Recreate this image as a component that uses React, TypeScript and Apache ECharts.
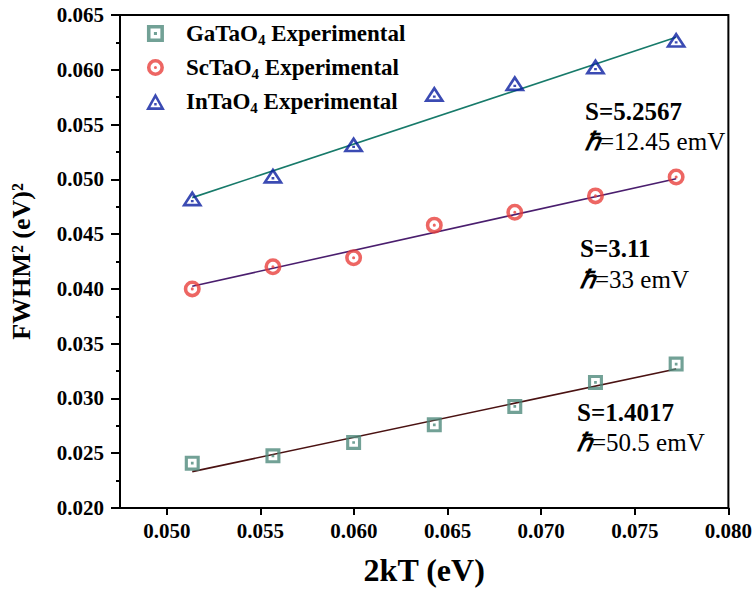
import React, { useEffect, useRef } from "react";
import * as echarts from "echarts";

const xValues = [0.05136, 0.05567, 0.05998, 0.06429, 0.06859, 0.0729, 0.07721];
const gaValues = [0.02409, 0.02476, 0.02598, 0.02759, 0.02927, 0.03146, 0.03314];
const scValues = [0.04, 0.04202, 0.04284, 0.04582, 0.047, 0.04849, 0.05021];
const inValues = [0.04808, 0.05016, 0.05302, 0.05762, 0.0586, 0.06012, 0.06256];

const fitX = [0.05136, 0.07721];
const gaFit = [0.02332, 0.03269];
const scFit = [0.04024, 0.05006];
const inFit = [0.04833, 0.06296];

const xTickValues = [0.05, 0.055, 0.06, 0.065, 0.07, 0.075, 0.08];
const seriesNames = ["GaTaO4 Experimental", "ScTaO4 Experimental", "InTaO4 Experimental"];

const SQUARE =
  "path://M0 0 H10 V10 H0 Z M2.1 2.1 V7.9 H7.9 V2.1 Z M4.1 4.1 H5.9 V5.9 H4.1 Z";
const CIRCLE =
  "path://M5 0 A5 5 0 1 1 5 10 A5 5 0 1 1 5 0 Z M5 2.1 A2.9 2.9 0 1 0 5 7.9 A2.9 2.9 0 1 0 5 2.1 Z M5 4.1 A0.9 0.9 0 1 1 5 5.9 A0.9 0.9 0 1 1 5 4.1 Z";
const TRIANGLE =
  "path://M5 0 L10 9 L0 9 Z M5 2.8 L2.3 7.55 L7.7 7.55 Z M4.35 5.35 H5.65 V6.65 H4.35 Z";

const FONT = '"Liberation Serif", "Times New Roman", serif';

const pairs = (xs: number[], ys: number[]) => xs.map((x, i) => [x, ys[i]]);

export default function App() {
  const ref = useRef<HTMLDivElement>(null);
  useEffect(() => {
    if (!ref.current) return;
    const chart = echarts.init(ref.current, undefined, { renderer: "svg" });
    const annot = (x: number, y: number, text: string, bold: boolean) => ({
      type: "text",
      x,
      y,
      style: {
        text,
        fontFamily: FONT,
        fontSize: 25,
        fontWeight: bold ? "bold" : "normal",
        fill: "#000",
        verticalAlign: "middle",
        rich: {
          h: { fontFamily: FONT, fontSize: 25, fontWeight: "bold", fontStyle: "italic", fill: "#000" },
          n: { fontFamily: FONT, fontSize: 25, fill: "#000" },
        },
      },
    });
    chart.setOption({
      animation: false,
      backgroundColor: "#fff",
      grid: {
        left: 119,
        right: 24,
        top: 15,
        bottom: 88,
        show: true,
        borderColor: "#000",
        borderWidth: 2,
      },
      legend: {
        orient: "vertical",
        left: 141,
        top: 15,
        itemWidth: 19,
        itemHeight: 17,
        itemGap: 7,
        data: seriesNames,
        formatter: (name: string) => {
          const [a, b] = name.split(" ");
          return `{b|${a.slice(0, -1)}}{s|4}{b| ${b}}`;
        },
        textStyle: {
          padding: [0, 0, 0, 16],
          rich: {
            b: { fontFamily: FONT, fontSize: 23, fontWeight: "bold", color: "#000", lineHeight: 23 },
            s: { fontFamily: FONT, fontSize: 15, fontWeight: "bold", color: "#000", lineHeight: 23, padding: [12, 0, 0, 0] },
          },
        },
      },
      xAxis: {
        type: "value",
        min: 0.0475,
        max: 0.08,
        name: "2kT (eV)",
        nameLocation: "middle",
        nameGap: 46,
        nameTextStyle: { fontFamily: FONT, fontSize: 32, fontWeight: "bold", color: "#000" },
        axisLine: { show: true, lineStyle: { color: "#000", width: 2 } },
        axisTick: { show: true, length: 7, customValues: xTickValues, lineStyle: { color: "#000", width: 2 } },
        axisLabel: {
          customValues: xTickValues,
          formatter: (v: number) => v.toFixed(3),
          fontFamily: FONT,
          fontSize: 21,
          fontWeight: "bold",
          color: "#000",
          margin: 12,
        },
        splitLine: { show: false },
      },
      yAxis: {
        type: "value",
        min: 0.02,
        max: 0.065,
        interval: 0.005,
        name: "FWHM\u00b2 (eV)\u00b2",
        nameLocation: "middle",
        nameGap: 86,
        nameTextStyle: { fontFamily: FONT, fontSize: 26, fontWeight: "bold", color: "#000" },
        axisLine: { show: true, lineStyle: { color: "#000", width: 2 } },
        axisTick: { show: true, length: 9, lineStyle: { color: "#000", width: 2 } },
        minorTick: { show: true, splitNumber: 2, length: 4, lineStyle: { color: "#000", width: 2 } },
        axisLabel: {
          formatter: (v: number) => v.toFixed(3),
          fontFamily: FONT,
          fontSize: 21,
          fontWeight: "bold",
          color: "#000",
          margin: 16,
        },
        splitLine: { show: false },
      },
      series: [
        {
          name: "GaTaO4 fit",
          type: "line",
          data: pairs(fitX, gaFit),
          symbol: "none",
          lineStyle: { color: "#4a1212", width: 1.6 },
          z: 2,
        },
        {
          name: "ScTaO4 fit",
          type: "line",
          data: pairs(fitX, scFit),
          symbol: "none",
          lineStyle: { color: "#4a1e6e", width: 1.6 },
          z: 2,
        },
        {
          name: "InTaO4 fit",
          type: "line",
          data: pairs(fitX, inFit),
          symbol: "none",
          lineStyle: { color: "#177a6a", width: 1.6 },
          z: 2,
        },
        {
          name: seriesNames[0],
          type: "scatter",
          data: pairs(xValues, gaValues),
          symbol: SQUARE,
          symbolSize: 15,
          symbolKeepAspect: true,
          itemStyle: { color: "#4f8a7c" },
          z: 3,
        },
        {
          name: seriesNames[1],
          type: "scatter",
          data: pairs(xValues, scValues),
          symbol: CIRCLE,
          symbolSize: 17,
          symbolKeepAspect: true,
          itemStyle: { color: "#e8403c" },
          z: 3,
        },
        {
          name: seriesNames[2],
          type: "scatter",
          data: pairs(xValues, inValues),
          symbol: TRIANGLE,
          symbolSize: [21, 18],
          symbolOffset: [0, -2],
          symbolKeepAspect: true,
          itemStyle: { color: "#0a1ea0" },
          z: 3,
        },
      ],
      graphic: [
        annot(585, 111, "S=5.2567", true),
        annot(585, 141, "{h|ℏ}{n|=12.45 emV}", false),
        annot(580, 248, "S=3.11", true),
        annot(580, 279, "{h|ℏ}{n|=33 emV}", false),
        annot(577, 412, "S=1.4017", true),
        annot(577, 442, "{h|ℏ}{n|=50.5 emV}", false),
      ],
    });
    return () => chart.dispose();
  }, []);
  return (
    <div
      ref={ref}
      style={{ position: "absolute", left: 0, top: 0, width: 755, height: 596 }}
    />
  );
}
